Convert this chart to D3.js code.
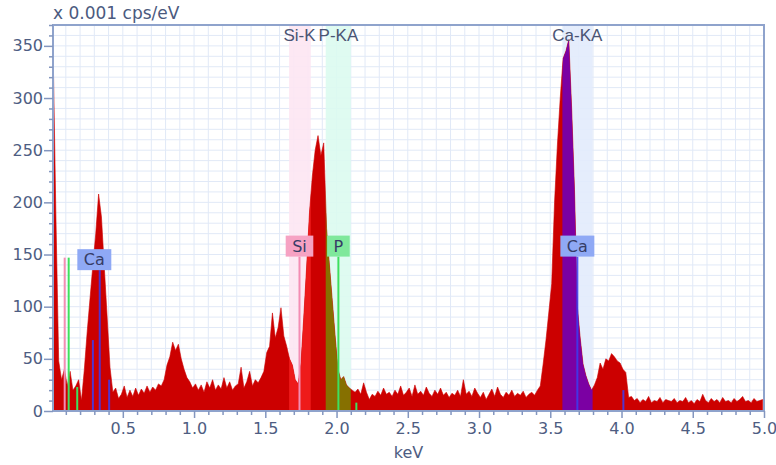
<!DOCTYPE html>
<html>
<head>
<meta charset="utf-8">
<script src="https://cdn.jsdelivr.net/npm/d3@7"></script>
<style>
  body { margin: 0; background: #fff; }
  svg { display: block; }
</style>
</head>
<body>
<div id="chart"></div>
<script>
// EDS spectrum, channels 0.02 keV wide, first channel centred at 0.01 keV
var channelStart = 0.01,
    channelWidth = 0.02;

// counts in units of 0.001 cps/eV, one row = 10 channels = 0.2 keV
var counts = [
  352, 190, 48, 30, 40, 24, 38, 20, 24, 30,      // 0.01
  10, 40, 76, 108, 140, 170, 208, 186, 138, 90,  // 0.21
  42, 18, 22, 12, 16, 24, 13, 20, 14, 22,        // 0.41
  15, 21, 17, 24, 18, 23, 20, 26, 24, 30,        // 0.61
  44, 52, 66, 58, 64, 50, 40, 32, 28, 22,        // 0.81
  26, 20, 25, 18, 28, 22, 30, 20, 25, 21,        // 1.01
  32, 22, 28, 20, 24, 26, 42, 22, 28, 38,        // 1.21
  24, 30, 27, 32, 38, 56, 62, 94, 70, 80,        // 1.41
  99, 72, 62, 50, 44, 30, 26, 45, 90, 138,       // 1.61
  190, 225, 250, 264, 245, 257, 175, 140, 106, 72, // 1.81
  40, 30, 33, 25, 22, 20, 18, 21, 16, 27,        // 2.01
  18, 11, 16, 14, 19, 15, 22, 16, 18, 14,        // 2.21
  20, 16, 24, 15, 18, 22, 14, 25, 16, 19,        // 2.41
  15, 23, 17, 14, 20, 16, 22, 15, 18, 13,        // 2.61
  17, 15, 20, 14, 30, 16, 19, 14, 22, 17,        // 2.81
  13, 18, 11, 16, 21, 14, 23, 16, 13, 18,        // 3.01
  15, 20, 14, 17, 15, 19, 13, 16, 18, 15,        // 3.21
  20, 24, 45, 68, 95, 122, 200, 255, 300, 338,   // 3.41
  345, 356, 290, 212, 100, 70, 45, 34, 26, 20,   // 3.61
  25, 32, 46, 40, 50, 48, 55, 52, 48, 46,        // 3.81
  40, 37, 13, 14, 10, 12, 8, 11, 9, 14,          // 4.01
  8, 10, 9, 13, 8, 11, 10, 9, 12, 8,             // 4.21
  10, 9, 13, 8, 10, 7, 11, 9, 16, 10,            // 4.41
  8, 12, 9, 11, 8, 13, 9, 10, 8, 12,             // 4.61
  9, 11, 14, 9, 10, 8, 12, 9, 10, 11             // 4.81
];

// ROI bands (keV) with their labels
var bands = [
  {label: "Si-K",  el: "Si", from: 1.667, to: 1.819, at: 1.740},
  {label: "P-KA",  el: "P",  from: 1.924, to: 2.100, at: 2.013},
  {label: "Ca-KA", el: "Ca", from: 3.585, to: 3.797, at: 3.690}
];

// element marker lines: energy (keV) and height
var markerLines = [
  {el: "Si", e: 0.092, h: 147},
  {el: "Si", e: 1.740, h: 148},
  {el: "P",  e: 0.120, h: 147},
  {el: "P",  e: 0.180, h: 23},
  {el: "P",  e: 2.013, h: 148},
  {el: "P",  e: 2.139, h: 8},
  {el: "Ca", e: 0.290, h: 68},
  {el: "Ca", e: 0.338, h: 135},
  {el: "Ca", e: 0.404, h: 30},
  {el: "Ca", e: 3.690, h: 148},
  {el: "Ca", e: 4.013, h: 20}
];

// element tags sitting on top of a marker line
var markerTags = [
  {el: "Ca", e: 0.300, h: 135},
  {el: "Si", e: 1.740, h: 148},
  {el: "P",  e: 2.013, h: 148},
  {el: "Ca", e: 3.690, h: 148}
];

var yMajor = [0, 50, 100, 150, 200, 250, 300, 350];
var xMajor = [0.5, 1.0, 1.5, 2.0, 2.5, 3.0, 3.5, 4.0, 4.5, 5.0];

var bandFill  = {Si: "#fde6f2", P: "#dcfbf0", Ca: "#e2ebfc"};
var peakFill  = {Si: "#ee1a1a", P: "#867000", Ca: "#7b00a3"};
var lineColor = {Si: "#f38db3", P: "#3ee05e", Ca: "#3c3cf0"};
var tagColor  = {Si: "#f6a2c3", P: "#7fe89b", Ca: "#8fa9f5"};

var margin = {top: 25, right: 12, bottom: 54, left: 53},
    width = 776 - margin.left - margin.right,
    height = 465 - margin.top - margin.bottom;

var svg = d3.select("#chart")
  .append("svg")
    .attr("width", width + margin.left + margin.right)
    .attr("height", height + margin.top + margin.bottom)
  .append("g")
    .attr("transform", "translate(" + margin.left + "," + margin.top + ")");

var x = d3.scaleLinear().domain([0.01, 5.0]).range([0, width]);
var y = d3.scaleLinear().domain([0, 370]).range([height, 0]);

var spectrum = counts.map(function(c, i) {
  return {e: channelStart + i * channelWidth, c: c};
});

// grid
svg.append("g").selectAll("line")
  .data(x.ticks(50))
  .enter().append("line")
    .attr("x1", function(d) { return x(d); })
    .attr("x2", function(d) { return x(d); })
    .attr("y1", 0).attr("y2", height)
    .attr("stroke", "#e1e9f7").attr("stroke-width", 1);

svg.append("g").selectAll("line")
  .data(y.ticks(37))
  .enter().append("line")
    .attr("y1", function(d) { return y(d); })
    .attr("y2", function(d) { return y(d); })
    .attr("x1", 0).attr("x2", width)
    .attr("stroke", "#e1e9f7").attr("stroke-width", 1);

// ROI bands
svg.append("g").selectAll("rect")
  .data(bands)
  .enter().append("rect")
    .attr("x", function(d) { return x(d.from); })
    .attr("width", function(d) { return x(d.to) - x(d.from); })
    .attr("y", 0).attr("height", height)
    .attr("fill", function(d) { return bandFill[d.el]; })
    .attr("opacity", 0.9);

var defs = svg.append("defs");
defs.append("clipPath").attr("id", "plot-clip")
  .append("rect").attr("width", width).attr("height", height);

bands.forEach(function(b, i) {
  defs.append("clipPath").attr("id", "band-clip-" + i)
    .append("rect")
      .attr("x", x(b.from)).attr("width", x(b.to) - x(b.from))
      .attr("y", 0).attr("height", height);
});

var area = d3.area()
  .x(function(d) { return x(d.e); })
  .y0(y(0))
  .y1(function(d) { return y(d.c); });

svg.append("path")
  .datum(spectrum)
  .attr("clip-path", "url(#plot-clip)")
  .attr("fill", "#cc0000")
  .attr("stroke", "#cc0000")
  .attr("stroke-width", 0.6)
  .attr("d", area);

bands.forEach(function(b, i) {
  svg.append("path")
    .datum(spectrum)
    .attr("clip-path", "url(#band-clip-" + i + ")")
    .attr("fill", peakFill[b.el])
    .attr("d", area);
});

// marker lines
svg.append("g").selectAll("line")
  .data(markerLines)
  .enter().append("line")
    .attr("x1", function(d) { return x(d.e); })
    .attr("x2", function(d) { return x(d.e); })
    .attr("y1", function(d) { return y(d.h); })
    .attr("y2", y(0))
    .attr("stroke", function(d) { return lineColor[d.el]; })
    .attr("stroke-opacity", function(d) { return d.el === "Ca" ? 0.85 : 1; })
    .attr("stroke-width", 2);

// element tags
var tag = svg.append("g").selectAll("g")
  .data(markerTags)
  .enter().append("g")
    .attr("transform", function(d) { return "translate(" + x(d.e) + "," + y(d.h) + ")"; });

tag.append("text")
  .attr("text-anchor", "middle")
  .attr("y", -10.5)
  .attr("dy", "0.36em")
  .style("font-family", "'DejaVu Sans', Verdana, sans-serif")
  .style("font-size", "16px")
  .attr("fill", "#363c66")
  .text(function(d) { return d.el; });

tag.insert("rect", "text")
  .attr("fill", function(d) { return tagColor[d.el]; })
  .attr("height", 21)
  .attr("y", -21)
  .each(function() {
    var w = this.parentNode.querySelector("text").getComputedTextLength() + 13;
    d3.select(this).attr("x", -w / 2).attr("width", w);
  });

// band labels
svg.append("g").selectAll("text")
  .data(bands)
  .enter().append("text")
    .attr("x", function(d) { return x(d.at); })
    .attr("y", 10)
    .attr("dy", "0.36em")
    .attr("text-anchor", "middle")
    .style("font-family", "'Liberation Sans', Arial, sans-serif")
    .style("font-size", "17px")
    .attr("fill", "#4a5474")
    .text(function(d) { return d.label; });

// frame
svg.append("rect")
  .attr("width", width).attr("height", height)
  .attr("fill", "none")
  .attr("stroke", "#8fa3cc")
  .attr("stroke-width", 2);

// axes
function styleAxis(g) {
  g.select(".domain").remove();
  g.selectAll(".tick line").attr("stroke", "#8396bf").attr("stroke-width", 1.5);
  g.selectAll(".tick text")
    .style("font-family", "'DejaVu Sans', Verdana, sans-serif")
    .style("font-size", "16px")
    .attr("fill", "#4e5d82");
}

var yMinor = y.ticks(37).filter(function(d) { return yMajor.indexOf(d) < 0; });
var xMinor = x.ticks(50).filter(function(d) {
  return !xMajor.some(function(m) { return Math.abs(m - d) < 1e-6; });
});

svg.append("g")
  .call(d3.axisLeft(y).tickValues(yMinor).tickSize(4).tickFormat(""))
  .call(styleAxis);
svg.append("g")
  .call(d3.axisLeft(y).tickValues(yMajor).tickSize(9).tickPadding(1))
  .call(styleAxis);

svg.append("g")
  .attr("transform", "translate(0," + height + ")")
  .call(d3.axisBottom(x).tickValues(xMinor).tickSize(4).tickFormat(""))
  .call(styleAxis);
svg.append("g")
  .attr("transform", "translate(0," + height + ")")
  .call(d3.axisBottom(x).tickValues(xMajor).tickSize(7).tickPadding(5).tickFormat(d3.format(".1f")))
  .call(styleAxis);

// axis titles
svg.append("text")
  .attr("x", 0).attr("y", -6)
  .style("font-family", "'DejaVu Sans', Verdana, sans-serif")
  .style("font-size", "17px")
  .attr("fill", "#4b5a7e")
  .text("x 0.001 cps/eV");

svg.append("text")
  .attr("x", width / 2).attr("y", height + 41)
  .attr("dy", "0.36em")
  .attr("text-anchor", "middle")
  .style("font-family", "'DejaVu Sans', Verdana, sans-serif")
  .style("font-size", "16px")
  .attr("fill", "#4e5d82")
  .text("keV");
</script>
</body>
</html>
